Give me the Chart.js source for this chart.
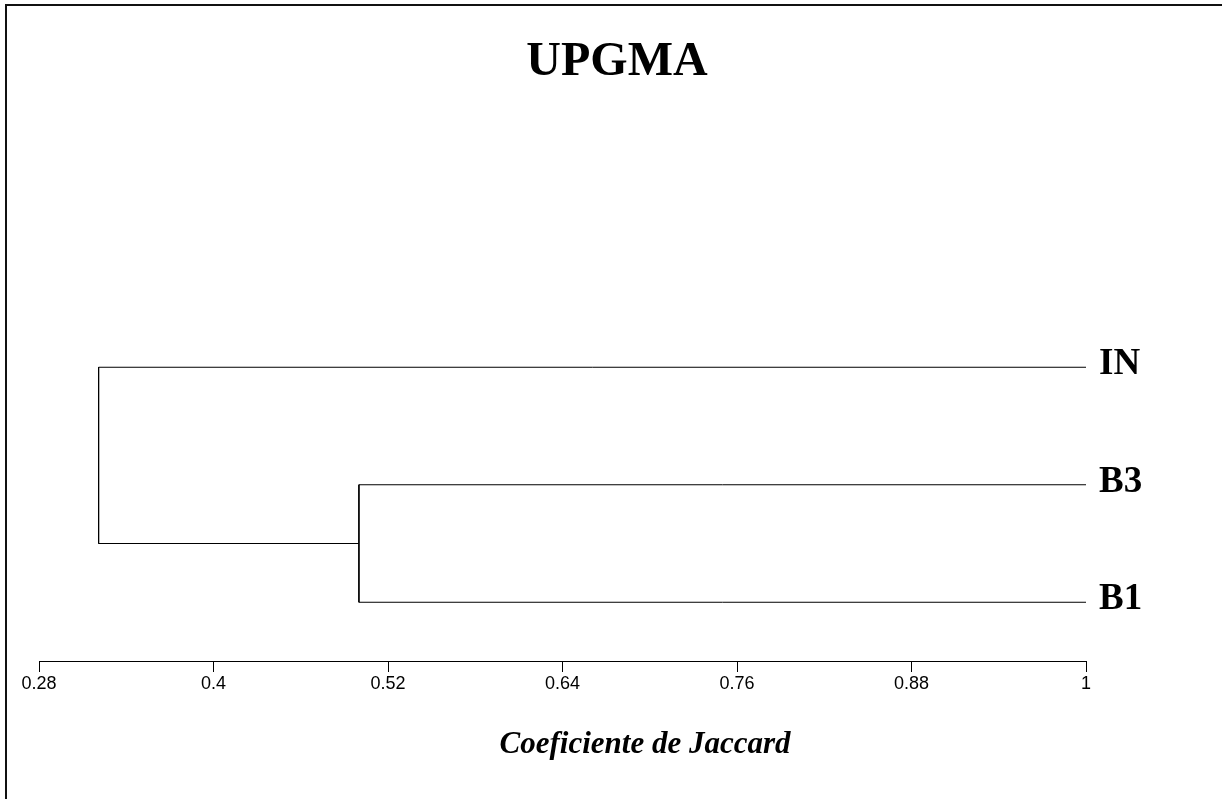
<!DOCTYPE html>
<html>
<head>
<meta charset="utf-8">
<script src="https://cdn.jsdelivr.net/npm/chart.js@4/dist/chart.umd.min.js"></script>
<style>
  html, body { margin: 0; padding: 0; background: #fff; }
  canvas { display: block; }
</style>
</head>
<body>
<canvas id="c" width="1222" height="799"></canvas>
<script>
// ---- data ----
const chartTitle = 'UPGMA';
const axisTitle = 'Coeficiente de Jaccard';
const leafLabels = ['IN', 'B3', 'B1'];          // leaf order, top to bottom
const leafPositions = [0, 1, 2];                // row index of each leaf
const mergeB3B1 = 0.50;                         // similarity where B3 and B1 join
const mergeRoot = 0.321;                        // similarity where IN joins (B3,B1)
const tickValues = [0.28, 0.40, 0.52, 0.64, 0.76, 0.88, 1.00];
const tickLabels = ['0.28', '0.4', '0.52', '0.64', '0.76', '0.88', '1'];
const leafSimilarity = 1.0;

// ---- build dendrogram links from data ----
const yIN = leafPositions[0], yB3 = leafPositions[1], yB1 = leafPositions[2];
const yCluster = (yB3 + yB1) / 2;
const linkCluster = [
  { x: leafSimilarity, y: yB3 }, { x: mergeB3B1, y: yB3 },
  { x: mergeB3B1, y: yB1 }, { x: leafSimilarity, y: yB1 }
];
const linkRoot = [
  { x: leafSimilarity, y: yIN }, { x: mergeRoot, y: yIN },
  { x: mergeRoot, y: yCluster }, { x: mergeB3B1, y: yCluster }
];

const lineStyle = { borderColor: '#000', borderWidth: 1, pointRadius: 0, tension: 0, fill: false, showLine: true };

const decor = {
  id: 'decor',
  beforeDraw(chart) {
    const ctx = chart.ctx;
    ctx.save();
    ctx.fillStyle = '#fff';
    ctx.fillRect(0, 0, chart.width, chart.height);
    // frame (top and left)
    ctx.fillStyle = '#111';
    ctx.fillRect(5, 4, chart.width - 5, 2);
    ctx.fillRect(5, 4, 2, chart.height - 4);
    ctx.restore();
  },
  afterDraw(chart) {
    const ctx = chart.ctx;
    const xs = chart.scales.x, ys = chart.scales.y;
    ctx.save();
    ctx.fillStyle = '#000';
    // title
    ctx.font = 'bold 48px "Liberation Serif", "Times New Roman", serif';
    ctx.textAlign = 'center';
    ctx.textBaseline = 'alphabetic';
    ctx.fillText(chartTitle, 617, 75);
    // axis title
    ctx.font = 'italic bold 31px "Liberation Serif", "Times New Roman", serif';
    ctx.fillText(axisTitle, 645, 753);
    // leaf labels
    ctx.font = 'bold 37px "Liberation Serif", "Times New Roman", serif';
    ctx.textAlign = 'left';
    leafLabels.forEach((lab, i) => {
      const px = xs.getPixelForValue(leafSimilarity) + 13;
      const py = ys.getPixelForValue(leafPositions[i]) + 7;
      ctx.fillText(lab, px, py);
    });
    ctx.restore();
  }
};

new Chart(document.getElementById('c'), {
  type: 'scatter',
  data: {
    datasets: [
      Object.assign({ label: 'B3-B1', data: linkCluster }, lineStyle),
      Object.assign({ label: 'root', data: linkRoot }, lineStyle)
    ]
  },
  options: {
    responsive: false,
    animation: false,
    layout: { padding: { left: 39, right: 136, top: 73.5, bottom: 0 } },
    plugins: { legend: { display: false }, tooltip: { enabled: false }, title: { display: false } },
    scales: {
      x: {
        type: 'linear',
        position: 'bottom',
        min: tickValues[0],
        max: tickValues[tickValues.length - 1],
        afterBuildTicks(scale) { scale.ticks = tickValues.map(v => ({ value: v })); },
        afterFit(scale) { scale.height = 138; },
        border: { display: true, color: '#000', width: 1 },
        grid: { display: true, drawOnChartArea: false, drawTicks: true, tickLength: 11, tickColor: '#000', tickWidth: 1 },
        ticks: {
          color: '#000',
          padding: 1,
          maxRotation: 0,
          autoSkip: false,
          font: { family: '"Liberation Sans", Arial, sans-serif', size: 18 },
          callback: (v, i) => tickLabels[i]
        }
      },
      y: {
        type: 'linear',
        display: false,
        reverse: true,
        min: -2.5,
        max: 2.5
      }
    }
  },
  plugins: [decor]
});
</script>
</body>
</html>
